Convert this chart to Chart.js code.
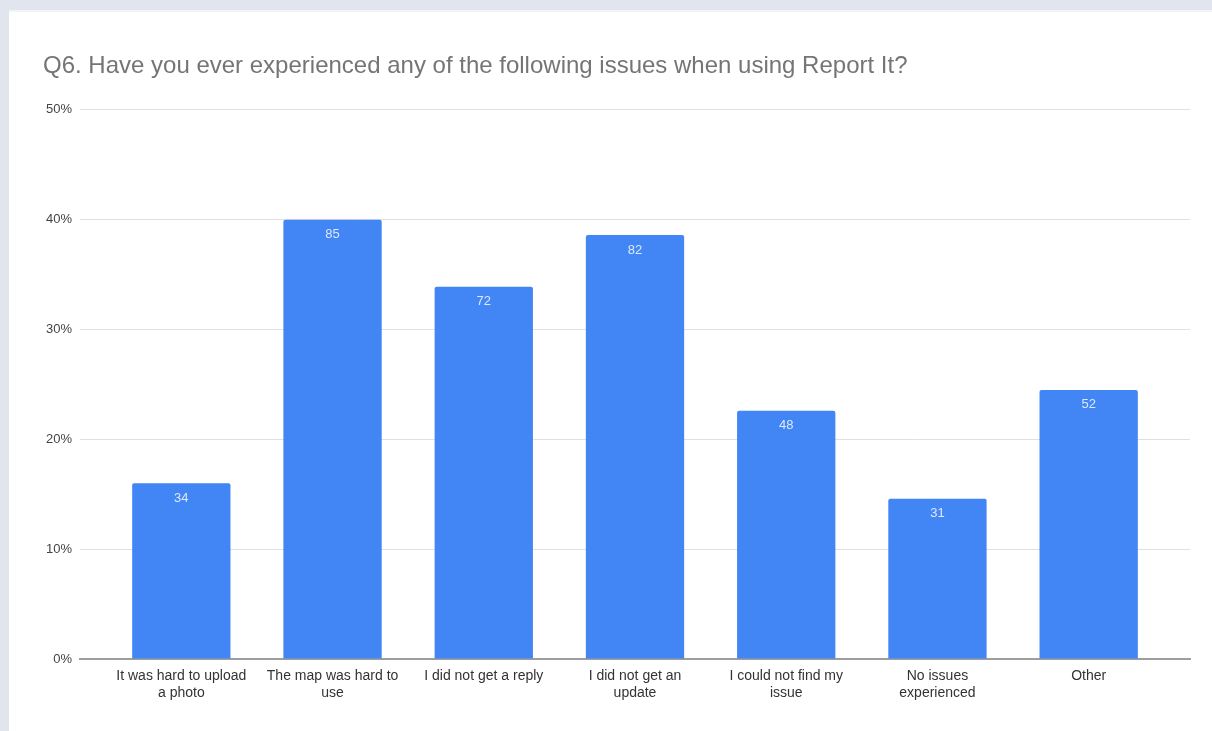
<!DOCTYPE html>
<html>
<head>
<meta charset="utf-8">
<title>Q6 survey results</title>
<script src="https://cdn.jsdelivr.net/npm/chart.js@4.4.1/dist/chart.umd.min.js"></script>
<style>
  html, body { margin: 0; padding: 0; }
  body { background: #e1e6ee; width: 1212px; height: 731px; overflow: hidden; }
  .card { position: absolute; left: 9px; top: 10px; width: 1203px; height: 721px; background: #fff; border-top: 2px solid #f1f3f5; }
  .card canvas { display: block; }
</style>
</head>
<body>
<div class="card">
  <canvas id="issuesChart" width="1203" height="719"></canvas>
</div>
<script>
// Answer options (split onto two lines where the axis wraps them)
const categories = [
    ['It was hard to upload', 'a photo'],
    ['The map was hard to', 'use'],
    ['I did not get a reply'],
    ['I did not get an', 'update'],
    ['I could not find my', 'issue'],
    ['No issues', 'experienced'],
    ['Other']
];

// Share of respondents (%) and the response counts shown on each bar
const percentValues = [16.0, 40.0, 33.9, 38.6, 22.6, 14.6, 24.5];
const responseCounts = [34, 85, 72, 82, 48, 31, 52];

const yTicks = [0, 10, 20, 30, 40, 50];

const FONT = '"Liberation Sans", Arial, sans-serif';

/**
 * Writes the response count near the top of every bar
 */
const countLabels = {
    id: 'countLabels',
    afterDatasetsDraw(chart) {
        const ctx = chart.ctx;
        const meta = chart.getDatasetMeta(0);
        ctx.save();
        ctx.font = '13px ' + FONT;
        ctx.fillStyle = 'rgba(255, 255, 255, 0.82)';
        ctx.textAlign = 'center';
        ctx.textBaseline = 'middle';
        meta.data.forEach(function(bar, i) {
            ctx.fillText(String(responseCounts[i]), bar.x, bar.y + 15);
        });
        ctx.restore();
    }
};

document.addEventListener('DOMContentLoaded', function() {
    const el = document.getElementById('issuesChart');

    new Chart(el, {
        type: 'bar',
        data: {
            datasets: [{
                data: percentValues.map(function(v, i) { return { x: i, y: v }; }),
                backgroundColor: '#4285f4',
                borderRadius: 2,
                barPercentage: 0.65,
                categoryPercentage: 1
            }]
        },
        options: {
            responsive: false,
            animation: false,
            layout: {
                padding: { left: 34, right: 22, top: 0, bottom: 0 }
            },
            plugins: {
                legend: { display: false },
                tooltip: { enabled: false },
                title: {
                    display: true,
                    text: 'Q6. Have you ever experienced any of the following issues when using Report It?',
                    align: 'start',
                    color: '#757575',
                    font: { family: FONT, size: 24, weight: 'normal', lineHeight: 1.2 },
                    padding: { top: 40, bottom: 29 }
                }
            },
            scales: {
                x: {
                    type: 'linear',
                    offset: false,
                    min: -0.67,
                    max: 6.67,
                    grid: { display: false, drawTicks: false },
                    border: { display: true, color: '#9e9e9e', width: 2 },
                    afterBuildTicks: function(axis) {
                        axis.ticks = categories.map(function(_, i) { return { value: i }; });
                    },
                    afterFit: function(axis) { axis.height = 72; },
                    ticks: {
                        autoSkip: false,
                        maxRotation: 0,
                        padding: 9,
                        color: '#333',
                        font: { family: FONT, size: 14, lineHeight: 1.2 },
                        callback: function(value) { return categories[value]; }
                    }
                },
                y: {
                    min: 0,
                    max: 50,
                    afterBuildTicks: function(axis) {
                        axis.ticks = yTicks.map(function(v) { return { value: v }; });
                    },
                    afterFit: function(axis) { axis.width = 37; },
                    grid: { color: '#e0e0e0', drawTicks: false },
                    border: { display: false },
                    ticks: {
                        padding: 8,
                        color: '#444',
                        font: { family: FONT, size: 13 },
                        callback: function(value) { return value + '%'; }
                    }
                }
            }
        },
        plugins: [countLabels]
    });
});
</script>
</body>
</html>
